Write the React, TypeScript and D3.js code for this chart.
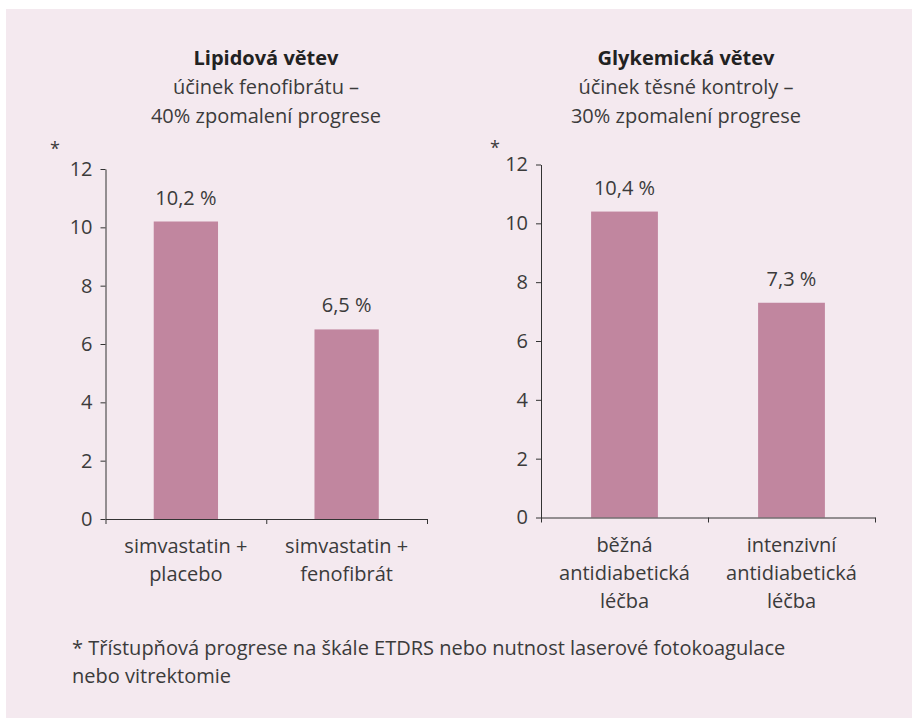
import * as d3 from 'd3'
import React, { useEffect, useRef } from "react";

const lipidCategories = [["simvastatin +", "placebo"], ["simvastatin +", "fenofibrát"]];
const lipidValues = [10.2, 6.5];
const glycCategories = [["běžná", "antidiabetická", "léčba"], ["intenzivní", "antidiabetická", "léčba"]];
const glycValues = [10.4, 7.3];
const yTicks = [0, 2, 4, 6, 8, 10, 12];
const lipidTitle = ["Lipidová větev", "účinek fenofibrátu –", "40% zpomalení progrese"];
const glycTitle = ["Glykemická větev", "účinek těsné kontroly –", "30% zpomalení progrese"];
const footnote = ["* Třístupňová progrese na škále ETDRS nebo nutnost laserové fotokoagulace", "nebo vitrektomie"];

const FONT = "'Open Sans', sans-serif";
const TEXT = "#3b3b3b";
const BAR = "#c1869f";
const BG = "#f4e9ef";

interface PanelProps {
    categories: string[][]
    values: number[]
    title: string[]
    x0: number
    x1: number
    yTop: number
    yZero: number
    titleX: number
    starX: number
    starY: number
}

const Panel: React.FC<PanelProps> = ({ categories, values, title, x0, x1, yTop, yZero, titleX, starX, starY }) => {
    const yRef = useRef<SVGGElement>(null);
    const xRef = useRef<SVGGElement>(null);

    const y = d3.scaleLinear().domain([0, 12]).range([yZero, yTop]);
    const x = d3.scaleBand<number>().domain(d3.range(values.length)).range([x0, x1]).padding(0);
    const xTicks = d3.scaleLinear().domain([0, values.length]).range([x0, x1]);
    const barW = x.bandwidth() * 0.4;
    const fmt = (v: number) => v.toFixed(1).replace('.', ',') + ' %';

    useEffect(() => {
        if (yRef.current) {
            const g = d3.select(yRef.current);
            g.selectAll('*').remove();
            g.call(d3.axisLeft(y).tickValues(yTicks).tickSize(5).tickSizeOuter(0).tickPadding(8));
            g.selectAll('text').attr('font-size', 20).attr('font-family', FONT).attr('fill', TEXT);
            g.selectAll('line,path').attr('stroke', '#333');
        }
        if (xRef.current) {
            const g = d3.select(xRef.current);
            g.selectAll('*').remove();
            g.call(d3.axisBottom(xTicks).tickValues(d3.range(values.length + 1)).tickSize(5).tickSizeOuter(0).tickFormat(() => ''));
            g.selectAll('line,path').attr('stroke', '#333');
        }
    }, [values]);

    return (
        <g>
            {title.map((t, i) => (
                <text key={i} x={titleX} y={65 + i * 29} textAnchor="middle" fontFamily={FONT}
                    fontSize={20} fontWeight={i === 0 ? 700 : 400} fill={i === 0 ? "#222" : TEXT}>{t}</text>
            ))}
            <text x={starX} y={starY} textAnchor="middle" fontFamily={FONT} fontSize={18} fill={TEXT}>*</text>
            {values.map((v, i) => (
                <g key={i}>
                    <rect x={x(i)! + (x.bandwidth() - barW) / 2} y={y(v)} width={barW} height={yZero - y(v)} fill={BAR} />
                    <text x={x(i)! + x.bandwidth() / 2} y={y(v) - 17} textAnchor="middle" fontFamily={FONT}
                        fontSize={20} fill={TEXT}>{fmt(v)}</text>
                    <text x={x(i)! + x.bandwidth() / 2} y={yZero + 34} textAnchor="middle" fontFamily={FONT}
                        fontSize={20} fill={TEXT}>
                        {categories[i].map((c, j) => (
                            <tspan key={j} x={x(i)! + x.bandwidth() / 2} dy={j === 0 ? 0 : 28}>{c}</tspan>
                        ))}
                    </text>
                </g>
            ))}
            <g ref={yRef} transform={`translate(${x0},0)`} />
            <g ref={xRef} transform={`translate(0,${yZero})`} />
        </g>
    );
}

const App: React.FC = () => {
    return (
        <svg width={912} height={718} style={{ position: 'absolute', left: 0, top: 0 }}>
            <rect x={0} y={0} width={912} height={718} fill="#fff" />
            <rect x={6} y={9} width={906} height={709} fill={BG} />
            <Panel categories={lipidCategories} values={lipidValues} title={lipidTitle}
                x0={105.5} x1={427} yTop={169} yZero={519} titleX={266} starX={55} starY={155} />
            <Panel categories={glycCategories} values={glycValues} title={glycTitle}
                x0={541} x1={875} yTop={164.5} yZero={517.5} titleX={686} starX={495} starY={154} />
            {footnote.map((t, i) => (
                <text key={i} x={72} y={655 + i * 28} fontFamily={FONT} fontSize={20} fill={TEXT}>{t}</text>
            ))}
        </svg>
    );
}

export default App;
